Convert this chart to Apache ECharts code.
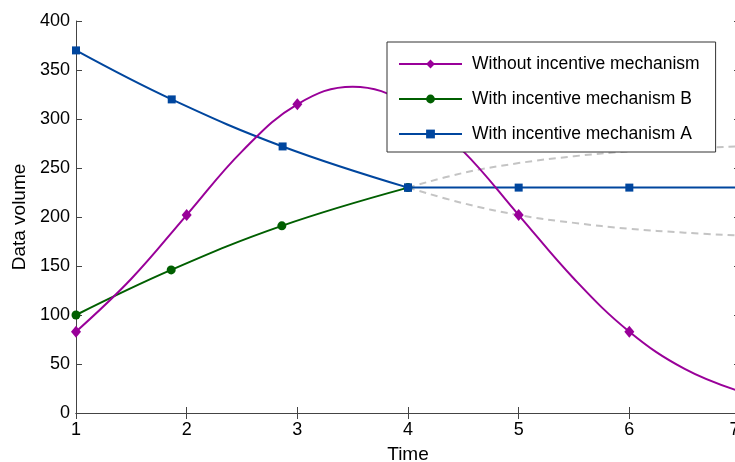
<!DOCTYPE html>
<html>
<head>
<meta charset="utf-8">
<script src="https://cdn.jsdelivr.net/npm/echarts@6/dist/echarts.min.js"></script>
<style>html,body{margin:0;padding:0;background:#fff}#c{width:735px;height:462px}</style>
</head>
<body>
<div id="c"></div>
<script>
// Values
const xTicks = [1, 2, 3, 4, 5, 6, 7];
const yTicks = [0, 50, 100, 150, 200, 250, 300, 350, 400];

const noIncX = [1, 1.5, 2, 2.5, 3, 3.5, 4, 4.5, 5, 5.5, 6, 6.5, 7];
const noIncY = [83, 137, 202, 267, 315, 333, 315, 267, 202, 137, 83, 45, 22];
const noIncMarked = [1, 2, 3, 4, 5, 6, 7];

const bX = [1, 1.86, 2.86, 4];
const bY = [100, 146, 191, 230];

const aCurveX = [1, 1.865, 2.867, 4];
const aCurveY = [370, 320, 272, 230];
const aFlatX = [4, 5, 6, 7];
const aFlatY = [230, 230, 230, 230];

const upperDashX = [4, 4.5, 5, 5.5, 6, 6.5, 7];
const upperDashY = [230, 245, 255, 262, 267, 270, 272];
const lowerDashX = [4, 4.5, 5, 5.5, 6, 6.5, 7];
const lowerDashY = [230, 214, 202, 194, 188, 184, 181];

const names = ['Without incentive mechanism', 'With incentive mechanism B', 'With incentive mechanism A'];

const zip = (xs, ys) => xs.map((x, i) => [x, ys[i]]);
const FONT = 'Liberation Sans, Arial, sans-serif';
const PURPLE = '#990099', GREEN = '#005f00', BLUE = '#00469e', GRAY = '#c4c4c4', AX = '#444';

const chart = echarts.init(document.getElementById('c'), null, {renderer: 'canvas'});

const xBase = {type: 'value', min: 1, max: 7, interval: 1, splitLine: {show: false},
  axisLine: {lineStyle: {color: AX, width: 1}}, axisTick: {inside: true, length: 6, lineStyle: {color: AX}}};
const yBase = {type: 'value', min: 0, max: 400, interval: 50, splitLine: {show: false},
  axisLine: {show: true, lineStyle: {color: AX, width: 1}}, axisTick: {show: true, inside: true, length: 6, lineStyle: {color: AX}}};

const lastX = xTicks[xTicks.length - 1];

chart.setOption({
  animation: false,
  backgroundColor: '#fff',
  grid: {left: 76, top: 21, width: 664, height: 392, containLabel: false, outerBoundsMode: 'none'},
  xAxis: [
    Object.assign({}, xBase, {position: 'bottom', name: 'Time', nameLocation: 'middle', nameGap: 32,
      nameTextStyle: {fontFamily: FONT, fontSize: 19, color: '#000'},
      axisLabel: {margin: 8, showMaxLabel: true, showMinLabel: true, hideOverlap: false,
        fontFamily: FONT, fontSize: 18, color: '#000',
        rich: {edge: {fontFamily: FONT, fontSize: 18, color: '#000', padding: [0, 11, 0, 0]}},
        formatter: v => !xTicks.includes(v) ? '' : (v === lastX ? '{edge|' + v + '}' : String(v))}}),
    Object.assign({}, xBase, {position: 'top', axisLabel: {show: false}})
  ],
  yAxis: [
    Object.assign({}, yBase, {position: 'left', name: 'Data volume', nameLocation: 'middle', nameGap: 47,
      nameTextStyle: {fontFamily: FONT, fontSize: 19, color: '#000'},
      axisLabel: {margin: 6, fontFamily: FONT, fontSize: 18, color: '#000',
        formatter: v => yTicks.includes(v) ? String(v) : ''}}),
    Object.assign({}, yBase, {position: 'right', axisLabel: {show: false}})
  ],
  legend: {
    data: names, z: 20, zlevel: 0,
    left: 387, top: 42, orient: 'vertical',
    backgroundColor: '#fff', borderColor: '#333', borderWidth: 1, borderRadius: 0,
    padding: [13, 16, 9, 11],
    itemWidth: 63, itemHeight: 11, itemGap: 17,
    textStyle: {fontFamily: FONT, fontSize: 17.5, color: '#000', padding: [0, 0, 0, 5]}
  },
  series: [
    {type: 'line', data: zip(upperDashX, upperDashY), smooth: 0.4, symbol: 'none', silent: true,
      lineStyle: {color: GRAY, width: 2, type: [7, 5]}, z: 1},
    {type: 'line', data: zip(lowerDashX, lowerDashY), smooth: 0.4, symbol: 'none', silent: true,
      lineStyle: {color: GRAY, width: 2, type: [7, 5]}, z: 1},
    {name: names[1], type: 'line', data: zip(bX, bY), smooth: 0.4, symbol: 'circle', symbolSize: 9,
      lineStyle: {color: GREEN, width: 2}, itemStyle: {color: GREEN}, z: 2},
    {name: names[2], type: 'line', data: zip(aCurveX, aCurveY), smooth: 0.4, symbol: 'rect', symbolSize: 8,
      lineStyle: {color: BLUE, width: 2}, itemStyle: {color: BLUE}, z: 3},
    {name: names[2], type: 'line', data: zip(aFlatX, aFlatY), symbol: 'rect', symbolSize: 8,
      lineStyle: {color: BLUE, width: 2}, itemStyle: {color: BLUE}, z: 3},
    {name: names[0], type: 'line', smooth: 0.4, symbol: 'diamond',
      data: noIncX.map((x, i) => noIncMarked.includes(x) ? [x, noIncY[i]] : {value: [x, noIncY[i]], symbol: 'none'}),
      symbolSize: [10, 12],
      lineStyle: {color: PURPLE, width: 2}, itemStyle: {color: PURPLE}, z: 4}
  ]
});
</script>
</body>
</html>
